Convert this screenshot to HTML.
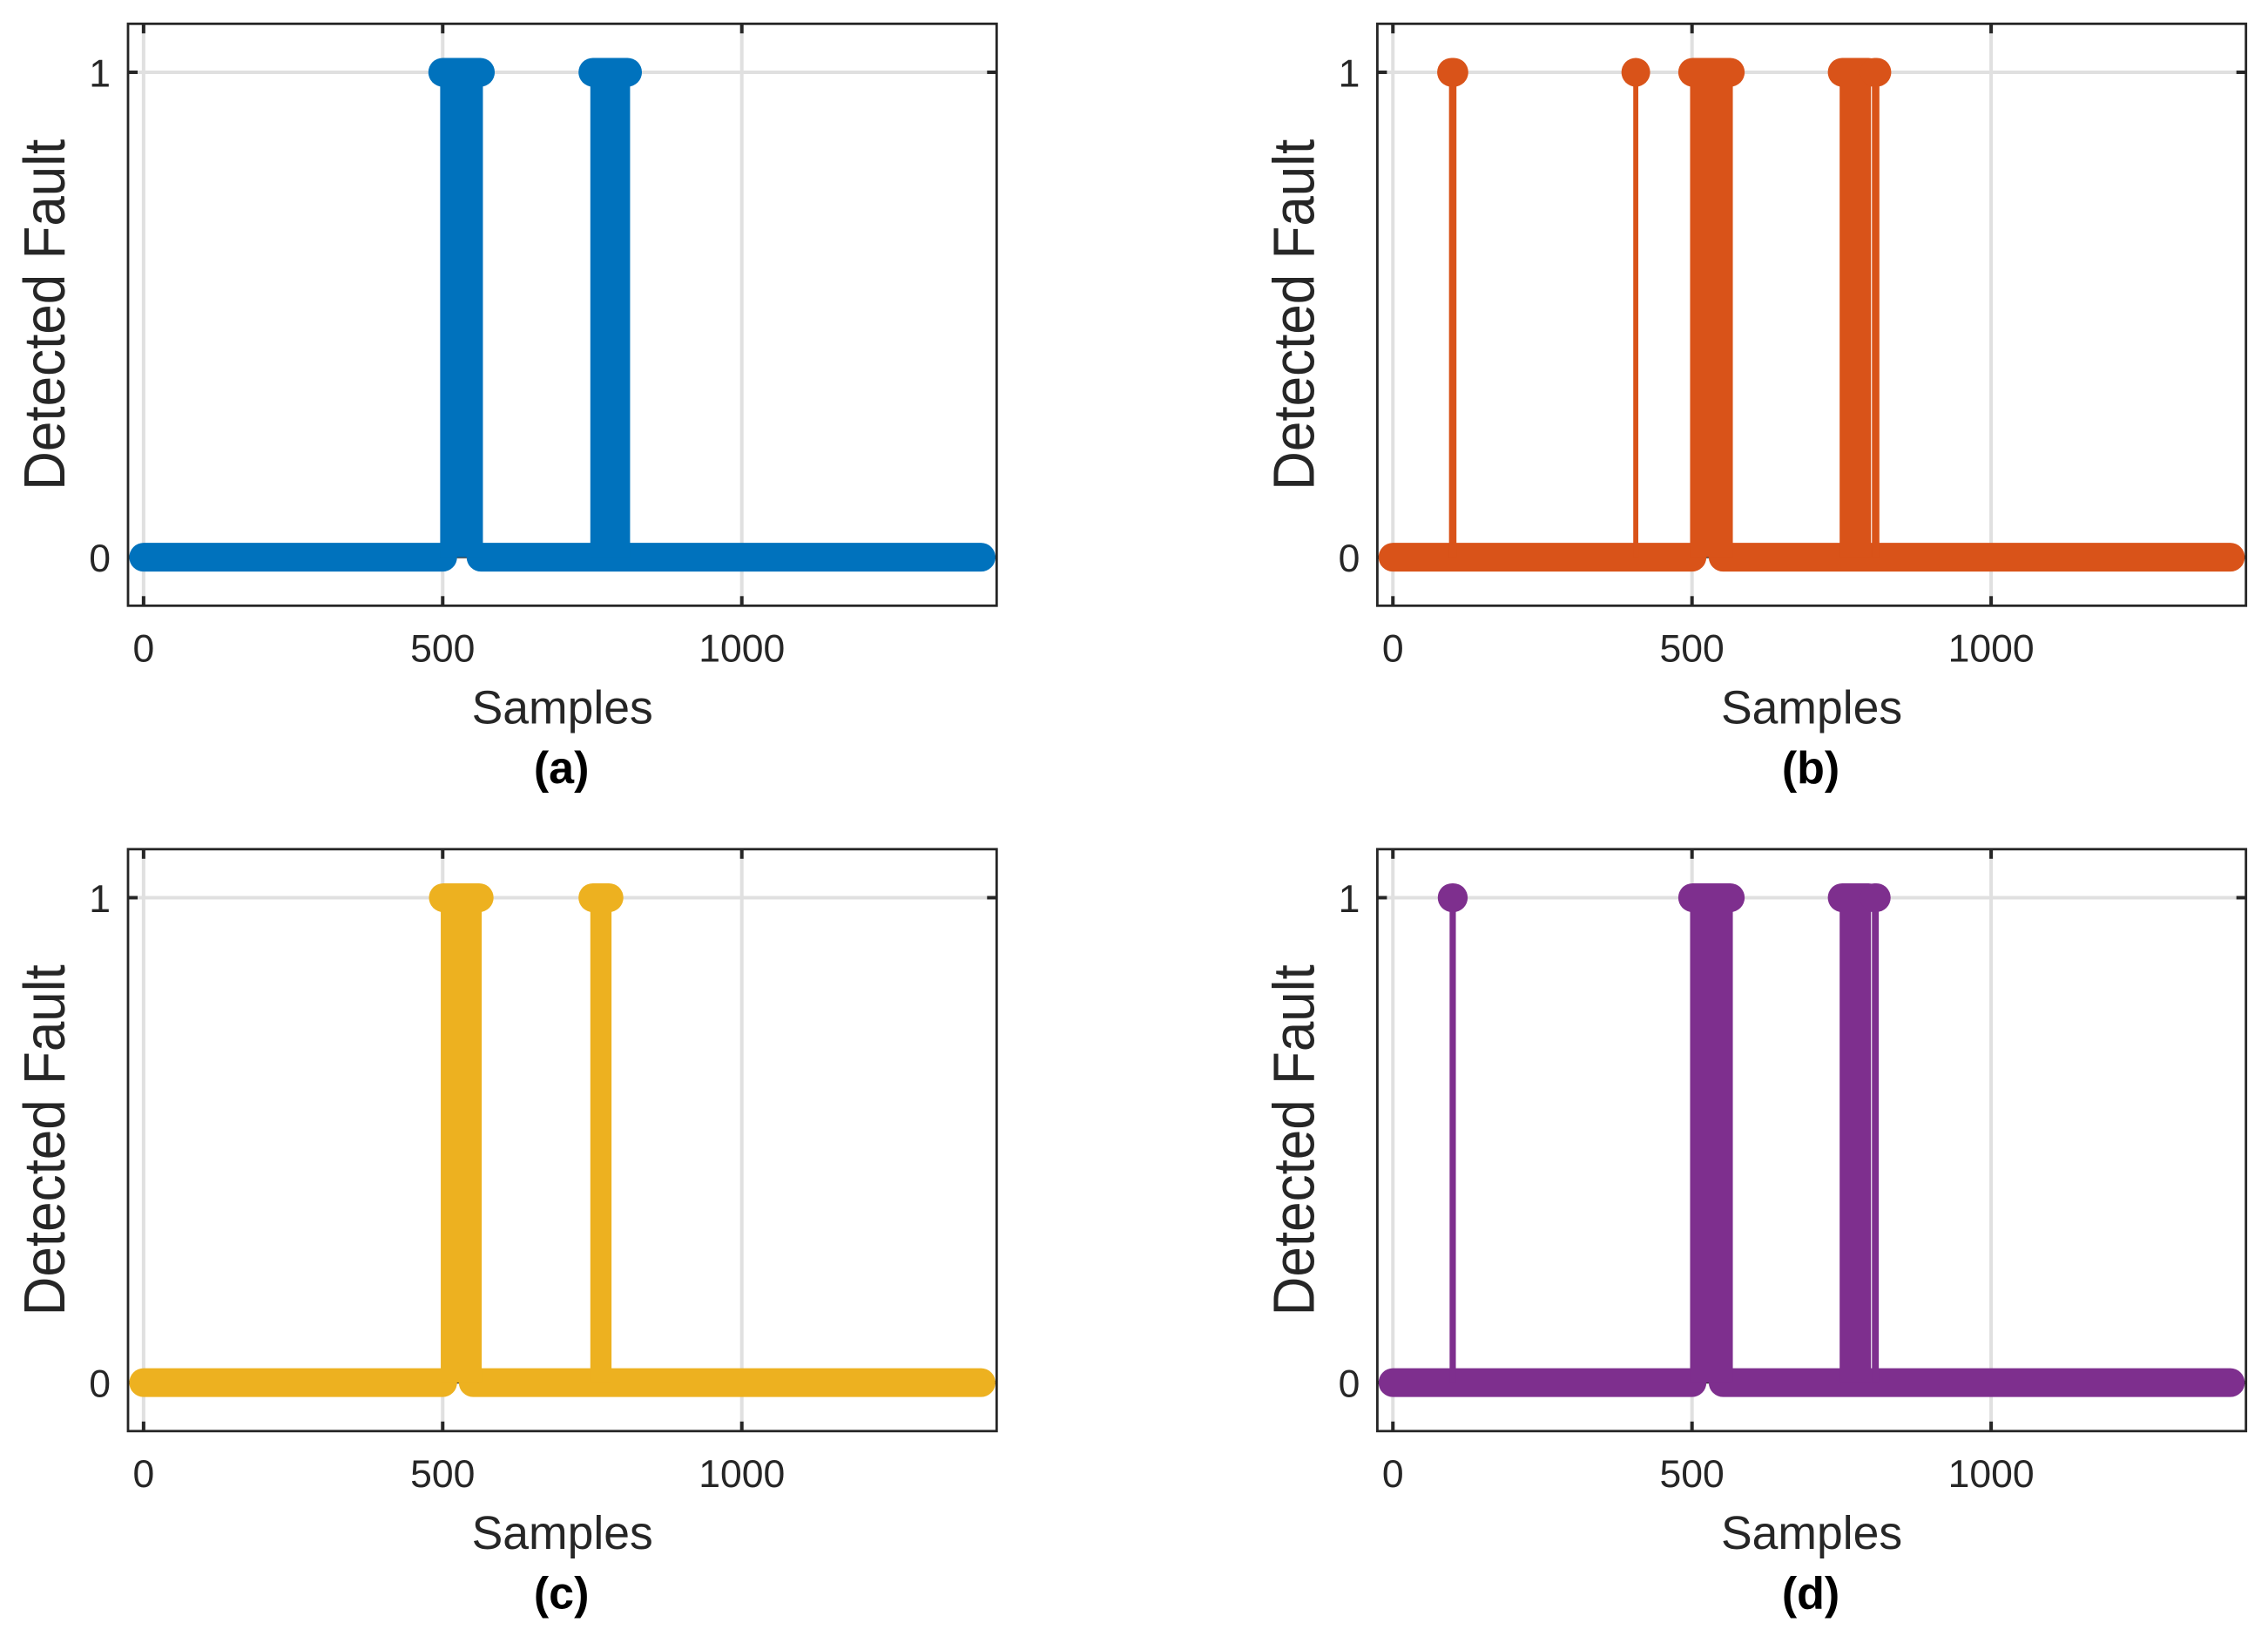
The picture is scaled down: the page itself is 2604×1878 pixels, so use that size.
<!DOCTYPE html>
<html lang="en">
<head>
<meta charset="utf-8">
<title>Detected Fault panels</title>
<style>
html,body{margin:0;padding:0;background:#fff;}
body{width:2604px;height:1878px;overflow:hidden;}
svg{display:block;}
text{font-family:"Liberation Sans",Arial,Helvetica,sans-serif;}
</style>
</head>
<body>
<svg id="chart" xmlns="http://www.w3.org/2000/svg" width="2604" height="1878" viewBox="0 0 2604 1878"></svg>
<script>
// Chart data (sample index ranges)
const sampleTicks = [0, 500, 1000];
const sampleTickLabels = ['0', '500', '1000'];
const valueTicks = [0, 1];
const valueTickLabels = ['0', '1'];
const sampleLimits = [-26, 1426];
const valueLimits = [-0.1, 1.1];
const lastSample = 1400;

const faultRunsA = [[500, 563], [751, 809]];
const normalRunsA = [[0, 500], [564, 1400]];
const faultRunsB = [[98, 102], [406, 406], [501, 564], [751, 795], [805, 809]];
const normalRunsB = [[0, 500], [552, 1400]];
const faultRunsC = [[501, 561], [751, 778]];
const normalRunsC = [[0, 500], [551, 1400]];
const faultRunsD = [[99, 101], [501, 564], [751, 795], [805, 808]];
const normalRunsD = [[0, 500], [552, 1400]];

const captions = ['(a)', '(b)', '(c)', '(d)'];
const colours = ['#0072bd', '#d95319', '#edb120', '#7e2f8e'];
const faultSeries = [faultRunsA, faultRunsB, faultRunsC, faultRunsD];
const normalSeries = [normalRunsA, normalRunsB, normalRunsC, normalRunsD];

// Layout
const NS = 'http://www.w3.org/2000/svg';
const root = document.getElementById('chart');
const lefts = [147, 1581.4, 147, 1581.4];
const tops = [27.3, 27.3, 974.8, 974.8];
const axW = 997.3;
const axH = 668;
const stemW = 5.8;
const markerD = 33;

function make(tag, parent, attrs) {
  const el = document.createElementNS(NS, tag);
  for (const k in attrs) el.setAttribute(k, attrs[k]);
  parent.appendChild(el);
  return el;
}

faultSeries.forEach(function (faultRuns, i) {
  const L = lefts[i], T = tops[i], R = L + axW, B = T + axH;
  const colour = colours[i];
  const xS = function (s) { return L + (s - sampleLimits[0]) / (sampleLimits[1] - sampleLimits[0]) * axW; };
  const yS = function (v) { return B - (v - valueLimits[0]) / (valueLimits[1] - valueLimits[0]) * axH; };

  const panel = make('g', root, {});
  
  

  // Grid
  sampleTicks.forEach(function (t) {
    const g = make('line', panel, { x1: xS(t), x2: xS(t), y1: T, y2: B, stroke: '#e0e0e0', 'stroke-width': 4 });
    
    
  });
  valueTicks.forEach(function (t) {
    const g = make('line', panel, { x1: L, x2: R, y1: yS(t), y2: yS(t), stroke: '#e0e0e0', 'stroke-width': 4 });
    
    
  });

  // Ticks
  sampleTicks.forEach(function (t, k) {
    const a = make('line', panel, { x1: xS(t), x2: xS(t), y1: B, y2: B - 11, stroke: '#262626', 'stroke-width': 4 });
    
    
    const b = make('line', panel, { x1: xS(t), x2: xS(t), y1: T, y2: T + 11, stroke: '#262626', 'stroke-width': 4 });
    
    
    const lab = make('text', panel, { x: xS(t), y: B + 64, 'text-anchor': 'middle', 'font-size': 44.5, fill: '#262626' });
    lab.textContent = sampleTickLabels[k];
    
    
  });
  valueTicks.forEach(function (t, k) {
    const a = make('line', panel, { x1: L, x2: L + 11, y1: yS(t), y2: yS(t), stroke: '#262626', 'stroke-width': 4 });
    
    
    const b = make('line', panel, { x1: R, x2: R - 11, y1: yS(t), y2: yS(t), stroke: '#262626', 'stroke-width': 4 });
    
    
    const lab = make('text', panel, { x: L - 20, y: yS(t) + 16.5, 'text-anchor': 'end', 'font-size': 44.5, fill: '#262626' });
    lab.textContent = valueTickLabels[k];
    
    
  });

  // Stem baseline
  const base = make('line', panel, { x1: xS(0), x2: xS(lastSample), y1: yS(0), y2: yS(0), stroke: '#262626', 'stroke-width': 2 });
  
  

  // Zero-valued samples: markers
  normalSeries[i].forEach(function (run) {
    const m = make('line', panel, { x1: xS(run[0]), x2: xS(run[1]), y1: yS(0), y2: yS(0), stroke: colour, 'stroke-width': markerD, 'stroke-linecap': 'round' });
    
    
  });

  // Fault-valued samples: stems and markers
  faultRuns.forEach(function (run) {
    const s = make('rect', panel, { x: xS(run[0]) - stemW / 2, y: yS(1), width: xS(run[1]) - xS(run[0]) + stemW, height: yS(0) - yS(1), fill: colour });
    
    
    const m = make('line', panel, { x1: xS(run[0]), x2: xS(run[1]) + 0.01, y1: yS(1), y2: yS(1), stroke: colour, 'stroke-width': markerD, 'stroke-linecap': 'round' });
    
    
  });

  // Axes box
  const box = make('rect', panel, { x: L, y: T, width: axW, height: axH, fill: 'none', stroke: '#262626', 'stroke-width': 2.8 });
  
  

  // Titles
  const xt = make('text', panel, { x: L + axW / 2, y: B + 135, 'text-anchor': 'middle', 'font-size': 53.5, fill: '#262626' });
  xt.textContent = 'Samples';
  
  

  const yx = L - 73, yy = T + 334;
  const yt = make('text', panel, { x: 0, y: 0, 'text-anchor': 'middle', 'font-size': 62, fill: '#262626', transform: 'translate(' + yx + ' ' + yy + ') rotate(-90) scale(1 1.07)' });
  yt.textContent = 'Detected Fault';
  
  

  const cap = make('text', panel, { x: L + axW / 2 - 1, y: B + 203.5, 'text-anchor': 'middle', 'font-size': 52, 'font-weight': 'bold', fill: '#000' });
  cap.textContent = captions[i];
  
  
});
</script>
</body>
</html>
